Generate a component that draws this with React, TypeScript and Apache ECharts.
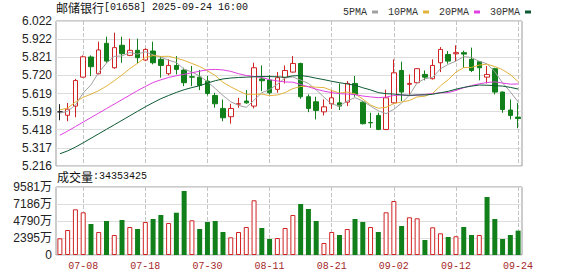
import { useEffect, useRef } from "react";
import * as echarts from "echarts";

// Trading days shown on the K-line
const dates = [
  "07-03", "07-04", "07-07", "07-08", "07-09", "07-10", "07-11", "07-14", "07-15", "07-16",
  "07-17", "07-18", "07-21", "07-22", "07-23", "07-24", "07-25", "07-28", "07-29", "07-30",
  "07-31", "08-01", "08-04", "08-05", "08-06", "08-07", "08-08", "08-11", "08-12", "08-13",
  "08-14", "08-15", "08-18", "08-19", "08-20", "08-21", "08-22", "08-25", "08-26", "08-27",
  "08-28", "08-29", "09-01", "09-02", "09-03", "09-04", "09-05", "09-08", "09-09", "09-10",
  "09-11", "09-12", "09-15", "09-16", "09-17", "09-18", "09-19", "09-22", "09-23", "09-24",
];

const opens = [
  5.517, 5.498, 5.549, 5.710, 5.822, 5.729, 5.898, 5.762, 5.887, 5.831,
  5.859, 5.805, 5.855, 5.809, 5.729, 5.775, 5.749, 5.712, 5.710, 5.688,
  5.608, 5.536, 5.490, 5.560, 5.577, 5.549, 5.700, 5.694, 5.642, 5.707,
  5.738, 5.786, 5.601, 5.573, 5.517, 5.562, 5.567, 5.571, 5.675, 5.571,
  5.458, 5.497, 5.419, 5.567, 5.747, 5.670, 5.679, 5.725, 5.701, 5.790,
  5.836, 5.840, 5.846, 5.809, 5.796, 5.710, 5.757, 5.627, 5.527, 5.488,
];
const closes = [
  5.517, 5.532, 5.691, 5.823, 5.768, 5.861, 5.799, 5.874, 5.840, 5.859,
  5.818, 5.864, 5.790, 5.775, 5.775, 5.753, 5.679, 5.710, 5.664, 5.619,
  5.562, 5.484, 5.536, 5.562, 5.567, 5.762, 5.690, 5.623, 5.707, 5.747,
  5.786, 5.601, 5.536, 5.525, 5.545, 5.595, 5.549, 5.675, 5.614, 5.451,
  5.456, 5.419, 5.595, 5.734, 5.627, 5.675, 5.757, 5.710, 5.775, 5.864,
  5.799, 5.846, 5.838, 5.747, 5.762, 5.725, 5.627, 5.530, 5.497, 5.480,
];
const lows = [
  5.470, 5.465, 5.487, 5.707, 5.716, 5.725, 5.790, 5.757, 5.790, 5.827,
  5.786, 5.799, 5.781, 5.707, 5.720, 5.725, 5.660, 5.660, 5.638, 5.608,
  5.540, 5.465, 5.451, 5.540, 5.562, 5.536, 5.632, 5.614, 5.623, 5.675,
  5.735, 5.590, 5.515, 5.475, 5.497, 5.534, 5.527, 5.549, 5.601, 5.447,
  5.428, 5.415, 5.415, 5.560, 5.577, 5.608, 5.677, 5.692, 5.697, 5.738,
  5.785, 5.799, 5.762, 5.738, 5.692, 5.675, 5.614, 5.512, 5.475, 5.426,
];
const highs = [
  5.560, 5.566, 5.700, 5.831, 5.831, 5.907, 5.935, 5.957, 5.935, 5.924,
  5.924, 5.870, 5.907, 5.827, 5.809, 5.827, 5.762, 5.772, 5.750, 5.716,
  5.623, 5.586, 5.562, 5.595, 5.638, 5.790, 5.775, 5.722, 5.738, 5.775,
  5.827, 5.790, 5.614, 5.601, 5.586, 5.638, 5.675, 5.688, 5.716, 5.575,
  5.512, 5.512, 5.640, 5.809, 5.796, 5.725, 5.760, 5.747, 5.809, 5.877,
  5.855, 5.887, 5.857, 5.874, 5.800, 5.772, 5.762, 5.630, 5.586, 5.567,
];

// Volume, in units of 万 (10,000 shares)
const volumes = [
  2353, 3522, 6439, 6016, 4368, 3241, 4791, 2818, 4932, 3945,
  3663, 4650, 5072, 5636, 4509, 5960, 9018, 4889, 3663, 4650,
  4791, 3241, 2494, 3241, 3945, 7707, 3804, 2254, 2395, 3804,
  5636, 7186, 6481, 4791, 1691, 3241, 2818, 3663, 5072, 4650,
  3945, 3241, 6016, 7609, 4086, 5312, 5171, 2114, 3903, 3057,
  2536, 2635, 3945, 2818, 2818, 8172, 5072, 2254, 2818, 3435.3425,
];

const ma5 = [
  5.510, 5.520, 5.555, 5.622, 5.667, 5.736, 5.788, 5.825, 5.828, 5.847,
  5.838, 5.851, 5.834, 5.821, 5.804, 5.791, 5.754, 5.738, 5.716, 5.685,
  5.647, 5.608, 5.573, 5.553, 5.542, 5.582, 5.623, 5.641, 5.670, 5.706,
  5.711, 5.693, 5.675, 5.639, 5.599, 5.560, 5.550, 5.578, 5.596, 5.577,
  5.549, 5.523, 5.507, 5.531, 5.566, 5.610, 5.678, 5.701, 5.709, 5.756,
  5.781, 5.799, 5.824, 5.819, 5.798, 5.784, 5.740, 5.678, 5.628, 5.572,
];
const ma10 = [
  5.528, 5.538, 5.572, 5.598, 5.615, 5.635, 5.660, 5.690, 5.722, 5.757,
  5.787, 5.820, 5.830, 5.825, 5.826, 5.815, 5.803, 5.786, 5.769, 5.745,
  5.719, 5.681, 5.656, 5.634, 5.614, 5.615, 5.616, 5.607, 5.611, 5.624,
  5.646, 5.658, 5.658, 5.654, 5.652, 5.636, 5.621, 5.627, 5.617, 5.588,
  5.555, 5.537, 5.542, 5.563, 5.572, 5.580, 5.600, 5.604, 5.620, 5.661,
  5.696, 5.738, 5.763, 5.764, 5.777, 5.782, 5.769, 5.751, 5.724, 5.685,
];
const ma20 = [
  5.387, 5.410, 5.435, 5.460, 5.485, 5.510, 5.535, 5.560, 5.585, 5.610,
  5.635, 5.658, 5.680, 5.695, 5.708, 5.718, 5.726, 5.734, 5.743, 5.751,
  5.753, 5.750, 5.742, 5.729, 5.719, 5.714, 5.708, 5.696, 5.689, 5.683,
  5.682, 5.669, 5.656, 5.643, 5.632, 5.624, 5.618, 5.616, 5.613, 5.605,
  5.600, 5.596, 5.599, 5.608, 5.611, 5.607, 5.610, 5.614, 5.618, 5.623,
  5.624, 5.636, 5.651, 5.663, 5.673, 5.680, 5.684, 5.677, 5.671, 5.672,
];
const ma30 = [
  5.284, 5.300, 5.321, 5.345, 5.370, 5.395, 5.420, 5.445, 5.470, 5.495,
  5.520, 5.545, 5.568, 5.590, 5.608, 5.625, 5.640, 5.652, 5.662, 5.677,
  5.690, 5.700, 5.705, 5.708, 5.710, 5.712, 5.713, 5.713, 5.712, 5.709,
  5.717, 5.719, 5.713, 5.704, 5.696, 5.687, 5.679, 5.672, 5.665, 5.651,
  5.639, 5.624, 5.618, 5.616, 5.611, 5.609, 5.611, 5.611, 5.615, 5.623,
  5.631, 5.643, 5.653, 5.660, 5.666, 5.665, 5.663, 5.660, 5.653, 5.644,
];

const priceMin = 5.216;
const priceMax = 6.022;
const priceTickLabels = ["5.216", "5.317", "5.418", "5.519", "5.619", "5.720", "5.821", "5.922", "6.022"];
const volumeMax = 9581;
const volumeTickLabels = ["0", "2395万", "4790万", "7186万", "9581万"];
const labelDates = ["07-08", "07-18", "07-30", "08-11", "08-21", "09-02", "09-12", "09-24"];

const maNames = ["5PMA", "10PMA", "20PMA", "30PMA"];
const maColors = ["#a0a0a0", "#e2b33c", "#e040e0", "#0d5a34"];

const UP = "#d02222";
const DOWN = "#11801a";
const MONO = '"Liberation Mono", "DejaVu Sans Mono", monospace';
const CJK = '"Noto Sans CJK SC", sans-serif';
const SANS = '"Liberation Sans", Arial, sans-serif';

export default function App() {
  const ref = useRef<HTMLDivElement>(null);

  useEffect(() => {
    if (!ref.current) return;
    const chart = echarts.init(ref.current, undefined, { renderer: "svg" });

    const isLabelDate = (_i: number, v: string) => labelDates.includes(v);
    const priceStep = +((priceMax - priceMin) / (priceTickLabels.length - 1)).toFixed(5);
    const volStep = volumeMax / (volumeTickLabels.length - 1);

    const candles = dates.map((_, i) => [opens[i], closes[i], lows[i], highs[i]]);
    const volBars = volumes.map((v, i) => {
      const rising = i === 0 || closes[i] >= closes[i - 1];
      return {
        value: v,
        itemStyle: rising
          ? { color: "#ffffff", borderColor: UP, borderWidth: 1 }
          : { color: DOWN, borderColor: DOWN, borderWidth: 0 },
      };
    });
    const maSeries = [ma5, ma10, ma20, ma30].map((d, k) => ({
      type: "line",
      name: maNames[k],
      data: d,
      xAxisIndex: 0,
      yAxisIndex: 0,
      symbol: "none",
      showSymbol: false,
      silent: true,
      z: 4,
      lineStyle: { width: 1, color: maColors[k] },
      itemStyle: { color: maColors[k] },
    }));

    const vSplit = {
      show: true,
      interval: isLabelDate,
      alignWithLabel: true,
      lineStyle: { color: "#c4c4c4", type: "dashed", width: 1 },
    };

    chart.setOption({
      animation: false,
      backgroundColor: "#ffffff",
      legend: {
        data: maNames,
        left: 338,
        top: 2,
        align: "right",
        icon: "rect",
        itemWidth: 6,
        itemHeight: 3,
        itemGap: 10,
        selectedMode: false,
        textStyle: { fontSize: 10, fontFamily: MONO, color: "#333", padding: [0, 0, 0, 0] },
      },
      grid: [
        { left: 56, right: 56, top: 21, height: 145, show: true, borderColor: "#999", borderWidth: 1 },
        { left: 56, right: 56, top: 187, height: 68, show: true, borderColor: "#999", borderWidth: 1 },
      ],
      xAxis: [
        {
          type: "category",
          gridIndex: 0,
          data: dates,
          boundaryGap: true,
          axisLine: { show: false },
          axisTick: { show: false },
          axisLabel: { show: false },
          splitLine: vSplit,
        },
        {
          type: "category",
          gridIndex: 1,
          data: dates,
          boundaryGap: true,
          axisLine: { show: false },
          axisTick: { show: false },
          axisLabel: {
            interval: isLabelDate,
            color: "#a52a2a",
            fontSize: 10,
            fontFamily: MONO,
            margin: 6,
          },
          splitLine: vSplit,
        },
      ],
      yAxis: [
        {
          type: "value",
          gridIndex: 0,
          min: priceMin,
          max: priceMax,
          interval: priceStep,
          axisLine: { show: false },
          axisTick: { show: false },
          axisLabel: {
            formatter: (_v: number, i: number) => priceTickLabels[i] ?? "",
            fontSize: 12,
            fontFamily: SANS,
            color: "#222",
            margin: 4,
          },
          splitLine: { show: true, lineStyle: { color: "#dddddd", width: 1 } },
        },
        {
          type: "value",
          gridIndex: 1,
          min: 0,
          max: volumeMax,
          interval: volStep,
          axisLine: { show: false },
          axisTick: { show: false },
          axisLabel: {
            formatter: (_v: number, i: number) => volumeTickLabels[i] ?? "",
            fontSize: 12,
            fontFamily: `${SANS.replace(", sans-serif", "")}, ${CJK}`,
            color: "#222",
            margin: 4,
          },
          splitLine: { show: true, lineStyle: { color: "#dddddd", width: 1 } },
        },
      ],
      graphic: [
        {
          type: "text",
          left: 56,
          top: 1,
          silent: true,
          style: {
            text: "{cn|邮储银行}{en|[01658] 2025-09-24 16:00}",
            rich: {
              cn: { fontSize: 12, fontFamily: CJK, fill: "#111" },
              en: { fontSize: 10, fontFamily: MONO, fill: "#111" },
            },
          },
        },
        {
          type: "text",
          left: 57,
          top: 170,
          silent: true,
          style: {
            text: `{cn|成交量}{en|:${Math.round(volumes[volumes.length - 1] * 10000)}}`,
            rich: {
              cn: { fontSize: 12, fontFamily: CJK, fill: "#111" },
              en: { fontSize: 10, fontFamily: MONO, fill: "#111" },
            },
          },
        },
      ],
      series: [
        {
          type: "candlestick",
          name: "K",
          data: candles,
          xAxisIndex: 0,
          yAxisIndex: 0,
          barWidth: 5,
          silent: true,
          z: 3,
          itemStyle: {
            color: "#ffffff",
            color0: DOWN,
            borderColor: UP,
            borderColor0: DOWN,
            borderColorDoji: "#222222",
            borderWidth: 1,
          },
        },
        ...maSeries,
        {
          type: "bar",
          name: "成交量",
          data: volBars,
          xAxisIndex: 1,
          yAxisIndex: 1,
          barWidth: 5,
          silent: true,
        },
      ],
    });

    return () => chart.dispose();
  }, []);

  return (
    <div
      ref={ref}
      style={{ position: "absolute", left: 0, top: 0, width: 578, height: 276, background: "#fff" }}
    />
  );
}
